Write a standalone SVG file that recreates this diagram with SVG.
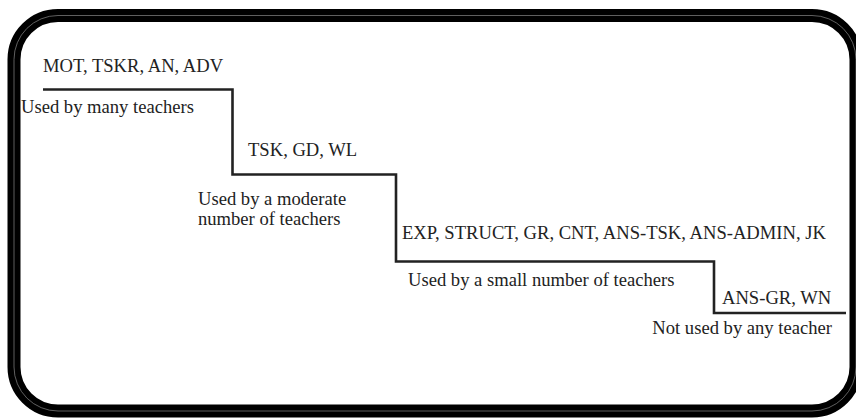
<svg xmlns="http://www.w3.org/2000/svg" width="856" height="419" viewBox="0 0 856 419">
<style>
  text { font-family: "Liberation Serif", "Times New Roman", serif; font-size: 18.6px; fill: #222; }
  .frame { fill: none; stroke: #000; stroke-width: 13; }
  .frame-hl { fill: none; stroke: #888; stroke-width: 0.7; }
  .stair { fill: none; stroke: #222; stroke-width: 2.6; stroke-linejoin: miter; }
</style>
<rect width="856" height="419" fill="#fff"/>
<g id="frame">
  <rect class="frame" x="14" y="15.5" width="842" height="395.5" rx="44" ry="44"/>
  <rect class="frame-hl" x="14" y="15.5" width="842" height="395.5" rx="44" ry="44"/>
</g>
<g id="connectors">
  <path class="stair" d="M43,89.5 H232.5 V174.5 H396 V261.5 H714 V313 H846"/>
</g>
<g id="level1">
  <text x="43" y="72">MOT, TSKR, AN, ADV</text>
  <text x="21" y="113">Used by many teachers</text>
</g>
<g id="level2">
  <text x="248" y="156">TSK, GD, WL</text>
  <text x="198" y="205">Used by a moderate</text>
  <text x="198" y="225">number of teachers</text>
</g>
<g id="level3">
  <text x="402" y="239">EXP, STRUCT, GR, CNT, ANS-TSK, ANS-ADMIN, JK</text>
  <text x="408" y="286">Used by a small number of teachers</text>
</g>
<g id="level4">
  <text x="722" y="304">ANS-GR, WN</text>
  <text x="832" y="334" text-anchor="end">Not used by any teacher</text>
</g>
</svg>
